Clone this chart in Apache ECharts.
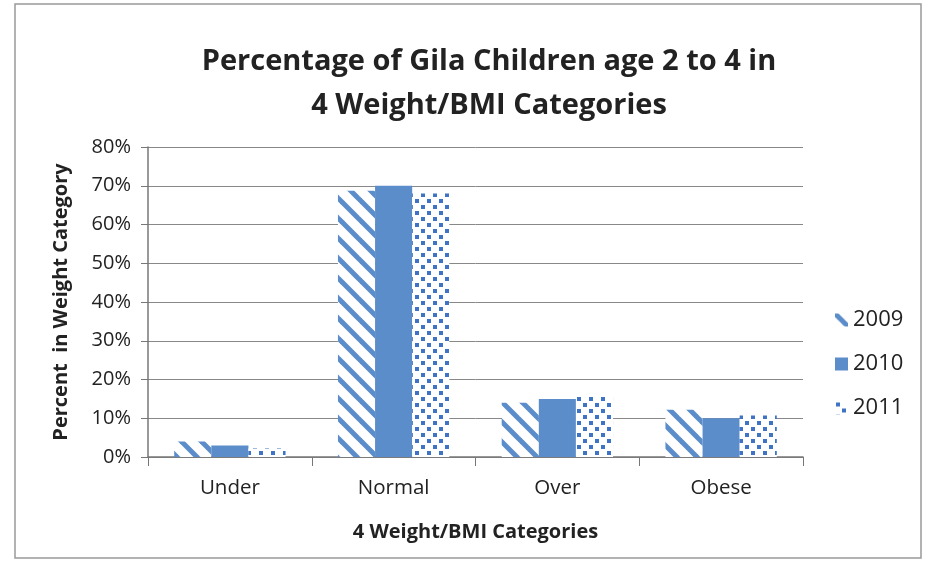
<!DOCTYPE html>
<html>
<head>
<meta charset="utf-8">
<script src="https://cdn.jsdelivr.net/npm/echarts@6/dist/echarts.min.js"></script>
<style>
  html, body { margin: 0; padding: 0; background: #fff; }
  #chart { width: 927px; height: 584px; }
</style>
</head>
<body>
<div id="chart"></div>
<script>
// 数据
var categories = ['Under', 'Normal', 'Over', 'Obese'];
var years = ['2009', '2010', '2011'];
var v2009 = [4, 68.7, 14, 12.2];
var v2010 = [3, 70, 15, 10];
var v2011 = [2.2, 68, 15.5, 10.7];
var yTicks = [0, 10, 20, 30, 40, 50, 60, 70, 80];

var blue = '#5b8dca';
var font = 'Open Sans';

// 斜线纹理
function stripePattern() {
    var c = document.createElement('canvas');
    c.width = 20; c.height = 20;
    var ctx = c.getContext('2d');
    ctx.fillStyle = '#fff';
    ctx.fillRect(0, 0, 20, 20);
    ctx.strokeStyle = blue;
    ctx.lineWidth = 5;
    for (var k = -1; k <= 1; k++) {
        ctx.beginPath();
        ctx.moveTo(k * 20 - 2, -2);
        ctx.lineTo(k * 20 + 22, 22);
        ctx.stroke();
    }
    return c;
}
// 点状纹理
function dotPattern() {
    var c = document.createElement('canvas');
    c.width = 12; c.height = 12;
    var ctx = c.getContext('2d');
    ctx.fillStyle = '#fff';
    ctx.fillRect(0, 0, 12, 12);
    ctx.fillStyle = '#3f74c4';
    ctx.fillRect(1, 1, 4, 4);
    ctx.fillRect(7, 7, 4, 4);
    return c;
}

var patterns = [
    { image: stripePattern(), repeat: 'repeat' },
    blue,
    { image: dotPattern(), repeat: 'repeat' }
];
var values = [v2009, v2010, v2011];

var myChart = echarts.init(document.getElementById('chart'));
var option = {
    backgroundColor: '#fff',
    animation: false,
    textStyle: { fontFamily: font },
    title: {
        text: 'Percentage of Gila Children age 2 to 4 in\n4 Weight/BMI Categories',
        left: 484,
        textAlign: 'center',
        top: 35,
        textStyle: {
            fontFamily: font,
            fontSize: 29,
            fontWeight: 'bold',
            color: '#222',
            lineHeight: 44
        }
    },
    legend: {
        orient: 'vertical',
        left: 830,
        top: 304,
        itemWidth: 13,
        itemHeight: 13,
        itemGap: 22,
        icon: 'rect',
        data: years,
        textStyle: { fontFamily: font, fontSize: 22, color: '#222' }
    },
    grid: {
        left: 148,
        right: 124,
        top: 147,
        bottom: 127
    },
    xAxis: {
        type: 'category',
        data: categories,
        name: '4 Weight/BMI Categories',
        nameLocation: 'middle',
        nameGap: 65,
        nameTextStyle: { fontFamily: font, fontSize: 20, fontWeight: 'bold', color: '#222' },
        axisLine: { lineStyle: { color: '#777', width: 1.5 } },
        axisTick: { show: true, length: 9, lineStyle: { color: '#777' } },
        axisLabel: { fontFamily: font, fontSize: 20.5, color: '#222', margin: 21 }
    },
    yAxis: {
        type: 'value',
        min: yTicks[0],
        max: yTicks[yTicks.length - 1],
        interval: 10,
        name: 'Percent  in Weight Category',
        nameLocation: 'middle',
        nameGap: 77,
        nameTextStyle: { fontFamily: font, fontSize: 20, fontWeight: 'bold', color: '#222' },
        axisLine: { show: true, lineStyle: { color: '#777', width: 1.5 } },
        axisTick: { show: true, length: 7, lineStyle: { color: '#777' } },
        axisLabel: { fontFamily: font, fontSize: 20, color: '#222', margin: 17, formatter: '{value}%' },
        splitLine: { lineStyle: { color: '#888', width: 1 } }
    },
    series: years.map(function (y, i) {
        return {
            name: y,
            type: 'bar',
            data: values[i],
            barGap: '0%',
            barCategoryGap: '32%',
            itemStyle: { color: patterns[i] }
        };
    }),
    graphic: [{
        type: 'rect',
        shape: { x: 15, y: 4, width: 906, height: 554 },
        style: { fill: 'none', stroke: '#999', lineWidth: 1.5 },
        silent: true
    }]
};
myChart.setOption(option);
</script>
</body>
</html>
